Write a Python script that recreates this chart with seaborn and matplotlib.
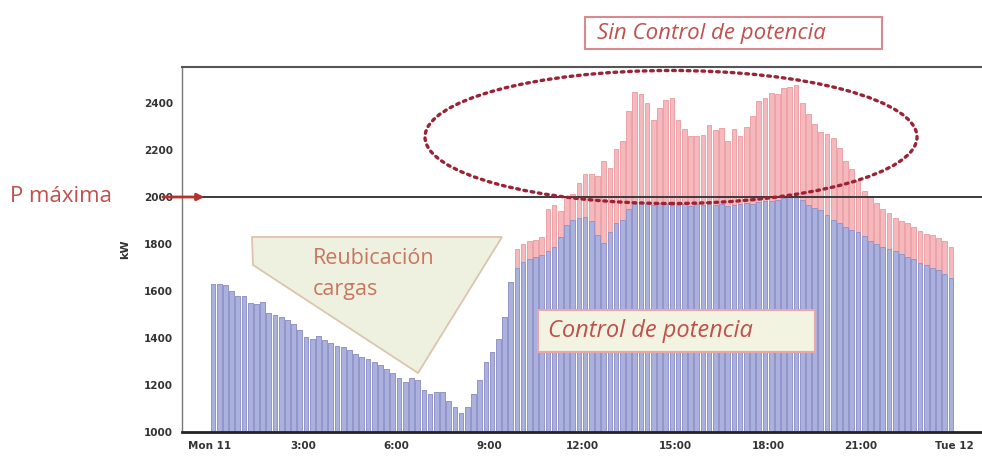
import numpy as np
import pandas as pd
import matplotlib
matplotlib.use("Agg")
import matplotlib.pyplot as plt
import seaborn as sns
from matplotlib.patches import Ellipse, Rectangle, Polygon, FancyArrowPatch
from matplotlib.ticker import MultipleLocator

# --- data (kW, 12-minute intervals, Mon 11 00:00 -> Tue 12 00:00) ---
con_control = [
    1630, 1632, 1625, 1600, 1580, 1578, 1550, 1545, 1555, 1505,
    1500, 1490, 1478, 1462, 1435, 1405, 1398, 1410, 1392, 1378,
    1366, 1362, 1350, 1332, 1320, 1310, 1298, 1285, 1270, 1250,
    1228, 1215, 1232, 1222, 1180, 1162, 1170, 1172, 1130, 1105,
    1080, 1105, 1160, 1220, 1300, 1340, 1395, 1490, 1640, 1700,
    1725, 1735, 1745, 1755, 1770, 1790, 1830, 1880, 1905, 1912,
    1915, 1900, 1840, 1805, 1850, 1890, 1905, 1950, 1970, 1975,
    1972, 1968, 1975, 1970, 1965, 1968, 1970, 1962, 1970, 1968,
    1972, 1965, 1970, 1962, 1968, 1970, 1975, 1972, 1978, 1982,
    1985, 1990, 1995, 2000, 2002, 1990, 1965, 1955, 1945, 1925,
    1905, 1890, 1875, 1860, 1850, 1835, 1815, 1800, 1790, 1780,
    1770, 1758, 1745, 1735, 1722, 1712, 1700, 1690, 1672, 1655,
]
sin_control = [
    1630, 1632, 1625, 1600, 1580, 1578, 1550, 1545, 1555, 1505,
    1500, 1490, 1478, 1462, 1435, 1405, 1398, 1410, 1392, 1378,
    1366, 1362, 1350, 1332, 1320, 1310, 1298, 1285, 1270, 1250,
    1228, 1215, 1232, 1222, 1180, 1162, 1170, 1172, 1130, 1105,
    1080, 1105, 1160, 1220, 1300, 1340, 1395, 1490, 1640, 1780,
    1800, 1815, 1820, 1830, 1950, 1965, 1942, 2000, 2015, 2060,
    2100, 2098, 2092, 2156, 2126, 2205, 2240, 2369, 2450, 2440,
    2400, 2330, 2380, 2415, 2424, 2330, 2290, 2262, 2262, 2265,
    2310, 2285, 2296, 2240, 2290, 2260, 2300, 2345, 2411, 2424,
    2446, 2440, 2467, 2470, 2478, 2400, 2356, 2313, 2278, 2270,
    2254, 2211, 2156, 2120, 2068, 2028, 2000, 1975, 1951, 1932,
    1910, 1900, 1890, 1875, 1855, 1845, 1840, 1827, 1815, 1790,
]
horas = np.arange(len(con_control)) * 0.2 + 0.1
tick_horas = [0, 3, 6, 9, 12, 15, 18, 21, 24]
tick_labels = ["Mon 11", "3:00", "6:00", "9:00", "12:00", "15:00", "18:00", "21:00", "Tue 12"]
p_maxima = 2000

df = pd.DataFrame({"hora": horas, "sin": sin_control, "con": con_control})

sns.set_style("white")
plt.rcParams["font.family"] = ["DejaVu Sans"]

W, H = 982, 458
def P(x, y):
    return (x / W, 1 - y / H)

fig = plt.figure(figsize=(W / 100, H / 100), dpi=100)
ax = fig.add_axes([182 / W, 1 - 432 / H, 1 - 182 / W, (432 - 67) / H])

sns.barplot(data=df, x="hora", y="sin", native_scale=True, color="#f5b8bc",
            edgecolor="#eb9aa0", linewidth=0.6, width=0.76, saturation=1, ax=ax)
sns.barplot(data=df, x="hora", y="con", native_scale=True, color="#abb1dd",
            edgecolor="#8a92cc", linewidth=0.6, width=0.76, saturation=1, ax=ax)

ax.set_xlim(-0.9, 24.9)
ax.set_ylim(1000, 2555)
ax.axhline(p_maxima, color="#3a3a3a", lw=1.4, zorder=5)

ax.set_xticks(tick_horas)
ax.set_xticklabels(tick_labels)
ax.xaxis.set_minor_locator(MultipleLocator(1))
ax.set_yticks(range(1000, 2401, 200))
ax.yaxis.set_minor_locator(MultipleLocator(40))
ax.tick_params(axis="both", which="major", labelsize=7.5, colors="#333333",
               direction="inout", length=6, width=1)
ax.tick_params(axis="both", which="minor", direction="inout", length=3,
               width=0.8, colors="#555555")
for lab in ax.get_xticklabels() + ax.get_yticklabels():
    lab.set_fontweight("bold")
    lab.set_color("#333333")
ax.set_xlabel("")
ax.set_ylabel("kW", fontsize=8, fontweight="bold", color="#333333", labelpad=10)

ax.spines["right"].set_visible(False)
ax.spines["top"].set_color("#555555")
ax.spines["top"].set_linewidth(1.5)
ax.spines["left"].set_color("#777777")
ax.spines["left"].set_linewidth(1)
ax.spines["bottom"].set_color("#222222")
ax.spines["bottom"].set_linewidth(2)

# --- annotations (figure coordinates) ---
red_txt = "#c0504d"
fam = ["Open Sans", "DejaVu Sans"]

# Sin Control box
x0, y0 = P(585, 49)
fig.add_artist(Rectangle((x0, y0), 297 / W, 32 / H, transform=fig.transFigure,
                         facecolor="white", edgecolor="#d98a8e", lw=1.5, zorder=10))
fig.text(*P(597, 33), "Sin Control de potencia", ha="left", va="center",
         fontsize=16, style="italic", color=red_txt, family=fam, zorder=11)

# dotted ellipse
fig.add_artist(Ellipse(P(671, 137), 492 / W, 133 / H, transform=fig.transFigure,
                       fill=False, edgecolor="#9b2335", lw=2.4,
                       linestyle=(0, (0.8, 1.4)), capstyle="round", zorder=12))

# P maxima
fig.text(*P(10, 197), "P máxima", ha="left", va="center", fontsize=16,
         color=red_txt, family=fam)
fig.add_artist(FancyArrowPatch(
    P(160, 197), P(207, 197), transform=fig.transFigure, arrowstyle="-|>",
    mutation_scale=10, color="#b8302e", lw=2, zorder=12))

# Reubicacion triangle
tri = [P(252, 237), P(502, 237), P(418, 373), P(253, 265)]
fig.add_artist(Polygon(tri, closed=True, transform=fig.transFigure,
                       facecolor="#eef1e0", edgecolor="#dcc4ae", lw=1.3, zorder=10))
fig.text(*P(313, 258), "Reubicación", ha="left", va="center", fontsize=15.5,
         color="#c8765e", family=fam, zorder=11)
fig.text(*P(313, 290), "cargas", ha="left", va="center", fontsize=15.5,
         color="#c8765e", family=fam, zorder=11)

# Control de potencia box
x0, y0 = P(538, 352)
fig.add_artist(Rectangle((x0, y0), 277 / W, 42 / H, transform=fig.transFigure,
                         facecolor="#f3f3e2", edgecolor="#e6a8ac", lw=1.5, zorder=10))
fig.text(*P(548, 331), "Control de potencia", ha="left", va="center", fontsize=17,
         style="italic", color=red_txt, family=fam, zorder=11)

fig.savefig("out.png", dpi=100)
